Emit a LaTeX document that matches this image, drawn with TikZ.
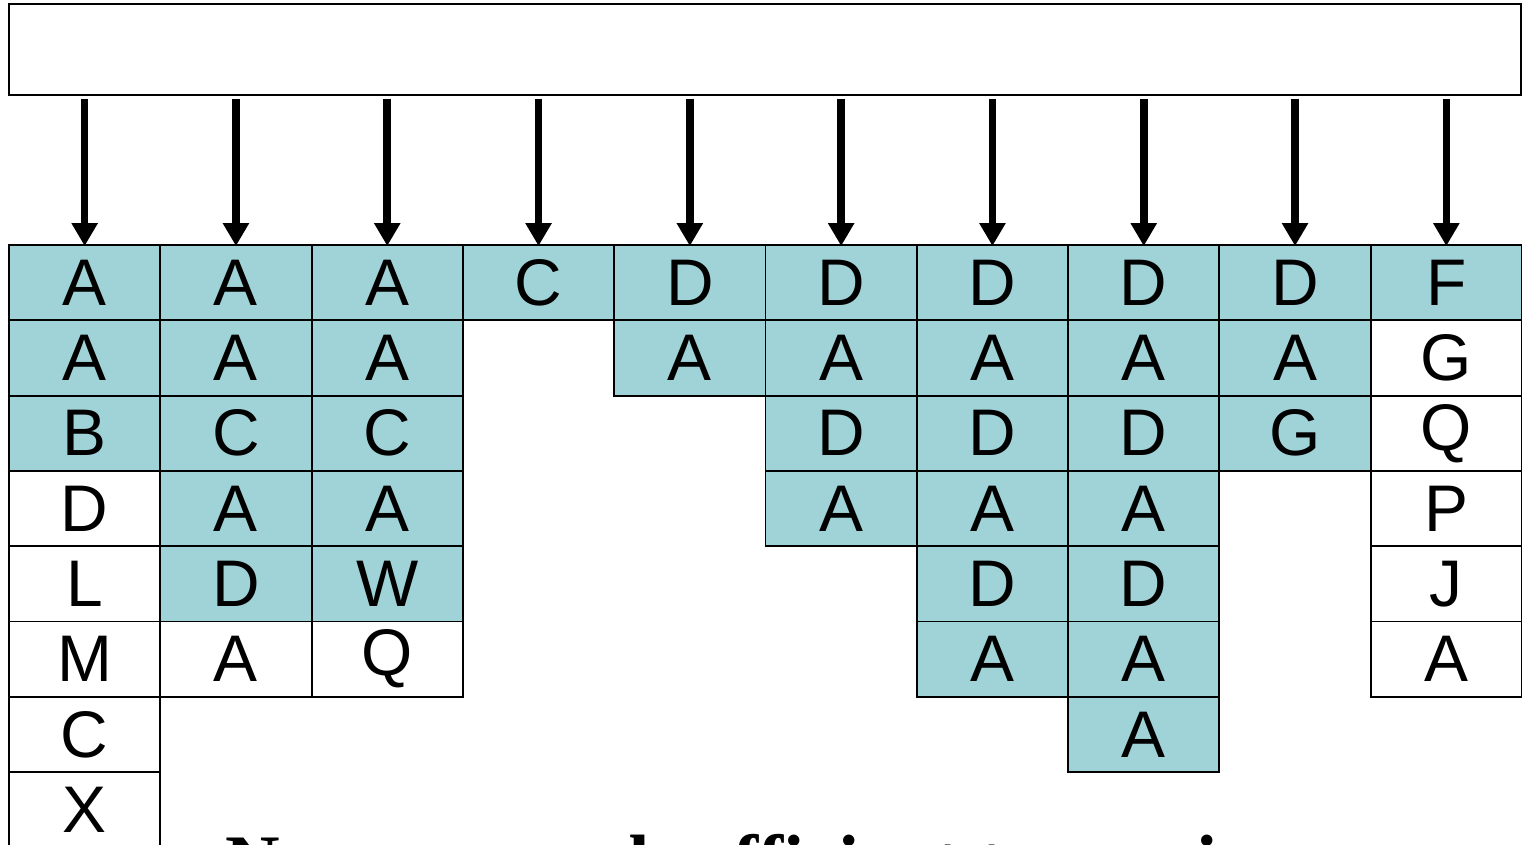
\documentclass[tikz,border=0pt]{standalone}
\usepackage{fontspec}
\setmainfont{Liberation Serif}
\setsansfont{Liberation Sans}
\usepackage{tikz}
\usetikzlibrary{arrows.meta,positioning}
\definecolor{prefteal}{RGB}{160,211,215}

\tikzset{
  cell/.style={draw=black, line width=1.1pt, minimum width=3.026cm,
               minimum height=1.506cm, inner sep=0pt,
               font=\sffamily\fontsize{37.5}{40}\selectfont},
  shaded/.style={cell, fill=prefteal},
  plain/.style={cell, fill=white},
  feed/.style={line width=4.3pt, -{Triangle[width=0.5cm,length=0.46cm]},
               shorten <=0.06cm, shorten >=-0.04cm}
}

\begin{document}
\begin{tikzpicture}
  \useasboundingbox (0,0) rectangle (30.44,-16.9);
  % pointer array on top
  \node[draw, line width=1.1pt, minimum width=30.24cm, minimum height=1.82cm,
        inner sep=0pt] (ptrs) at (15.3,-0.99) {};
  % the strings, one per column; the first \n letters are shaded
  \foreach \word/\n [count=\c from 0] in
      {{A,A,B,D,L,M,C,X}/3, {A,A,C,A,D,A}/5, {A,A,C,A,W,Q}/5, {C}/1,
       {D,A}/2, {D,A,D,A}/4, {D,A,D,A,D,A}/6, {D,A,D,A,D,A,A}/7,
       {D,A,G}/3, {F,G,Q,P,J,A}/1}{
    \foreach \ch [count=\r from 0] in \word{
      \ifnum\r<\n \def\look{shaded}\else\def\look{plain}\fi
      \node[\look] (s\c-\r) at (\c*3.026+1.693, -\r*1.506-5.653) {\ch};
    }
    \draw[feed] (ptrs.south -| s\c-0.north) -- (s\c-0.north);
  }
  \node[anchor=base west, inner sep=0pt,
        font=\bfseries\fontsize{43}{48}\selectfont] (note)
    at (4.5,-17.75) {Now we need: efficient to run in};
\end{tikzpicture}
\end{document}
